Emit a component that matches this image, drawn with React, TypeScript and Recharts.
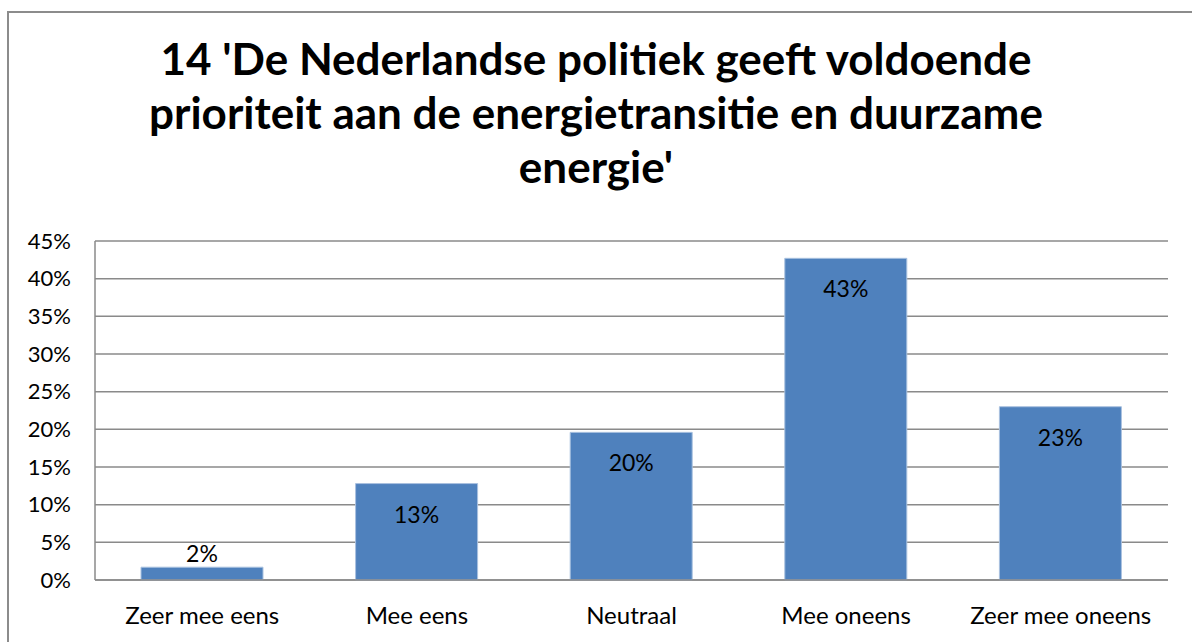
import React from "react"
import { Bar, BarChart, CartesianGrid, LabelList, XAxis, YAxis } from "recharts"

const CATEGORIES = ["Zeer mee eens", "Mee eens", "Neutraal", "Mee oneens", "Zeer mee oneens"]
const VALUES = [1.7, 12.8, 19.6, 42.7, 23.0]
const Y_TICKS = [0, 5, 10, 15, 20, 25, 30, 35, 40, 45]
const TITLE_LINES = [
  "14 'De Nederlandse politiek geeft voldoende",
  "prioriteit aan de energietransitie en duurzame",
  "energie'",
]

const data = CATEGORIES.map((name, i) => ({ name, value: VALUES[i] }))

const FONT = "Lato, 'Open Sans', sans-serif"
const GRID = "#8a8a8a"

function BarLabel(props: any) {
  const { x, y, width, value } = props
  const small = value < 5
  return (
    <text
      x={x + width / 2}
      y={small ? y - 14 : y + 30}
      textAnchor="middle"
      dominantBaseline="central"
      fontSize={23}
      fontFamily={FONT}
      fill="#000"
    >
      {Math.round(value)}%
    </text>
  )
}

export default function App() {
  return (
    <div
      style={{
        position: "fixed",
        left: 0,
        top: 0,
        width: 1192,
        height: 642,
        background: "#fff",
        overflow: "hidden",
        fontFamily: FONT,
      }}
    >
      <div
        style={{
          position: "absolute",
          left: 7,
          top: 11,
          width: 1300,
          height: 800,
          border: "2px solid #8c8c8c",
        }}
      />
      <div
        style={{
          position: "absolute",
          left: 0,
          top: 31,
          width: 1192,
          textAlign: "center",
          fontWeight: 700,
          fontSize: 44,
          lineHeight: "54px",
          color: "#000",
        }}
      >
        {TITLE_LINES.map((t) => (
          <div key={t}>{t}</div>
        ))}
      </div>
      <div style={{ position: "absolute", left: 0, top: 0 }}>
        <BarChart width={1192} height={642} data={data} margin={{ top: 241, right: 24, bottom: 22, left: 15 }}>
          <CartesianGrid vertical={false} stroke={GRID} strokeWidth={1.5} />
          <XAxis
            dataKey="name"
            height={40}
            tickLine={false}
            tickSize={0}
            tickMargin={27}
            axisLine={{ stroke: GRID, strokeWidth: 1.5 }}
            tick={{ fill: "#000", fontSize: 24, fontFamily: FONT }}
            interval={0}
          />
          <YAxis
            width={80}
            domain={[0, 45]}
            ticks={Y_TICKS}
            tickLine={false}
            tickSize={0}
            tickMargin={24}
            axisLine={{ stroke: GRID, strokeWidth: 1.5 }}
            tick={{ fill: "#000", fontSize: 22, fontFamily: FONT }}
            tickFormatter={(v) => `${v}%`}
          />
          <Bar dataKey="value" fill="#4f81bd" stroke="#a9c1df" strokeWidth={1} barSize={122} isAnimationActive={false}>
            <LabelList dataKey="value" content={BarLabel} />
          </Bar>
        </BarChart>
      </div>
    </div>
  )
}
